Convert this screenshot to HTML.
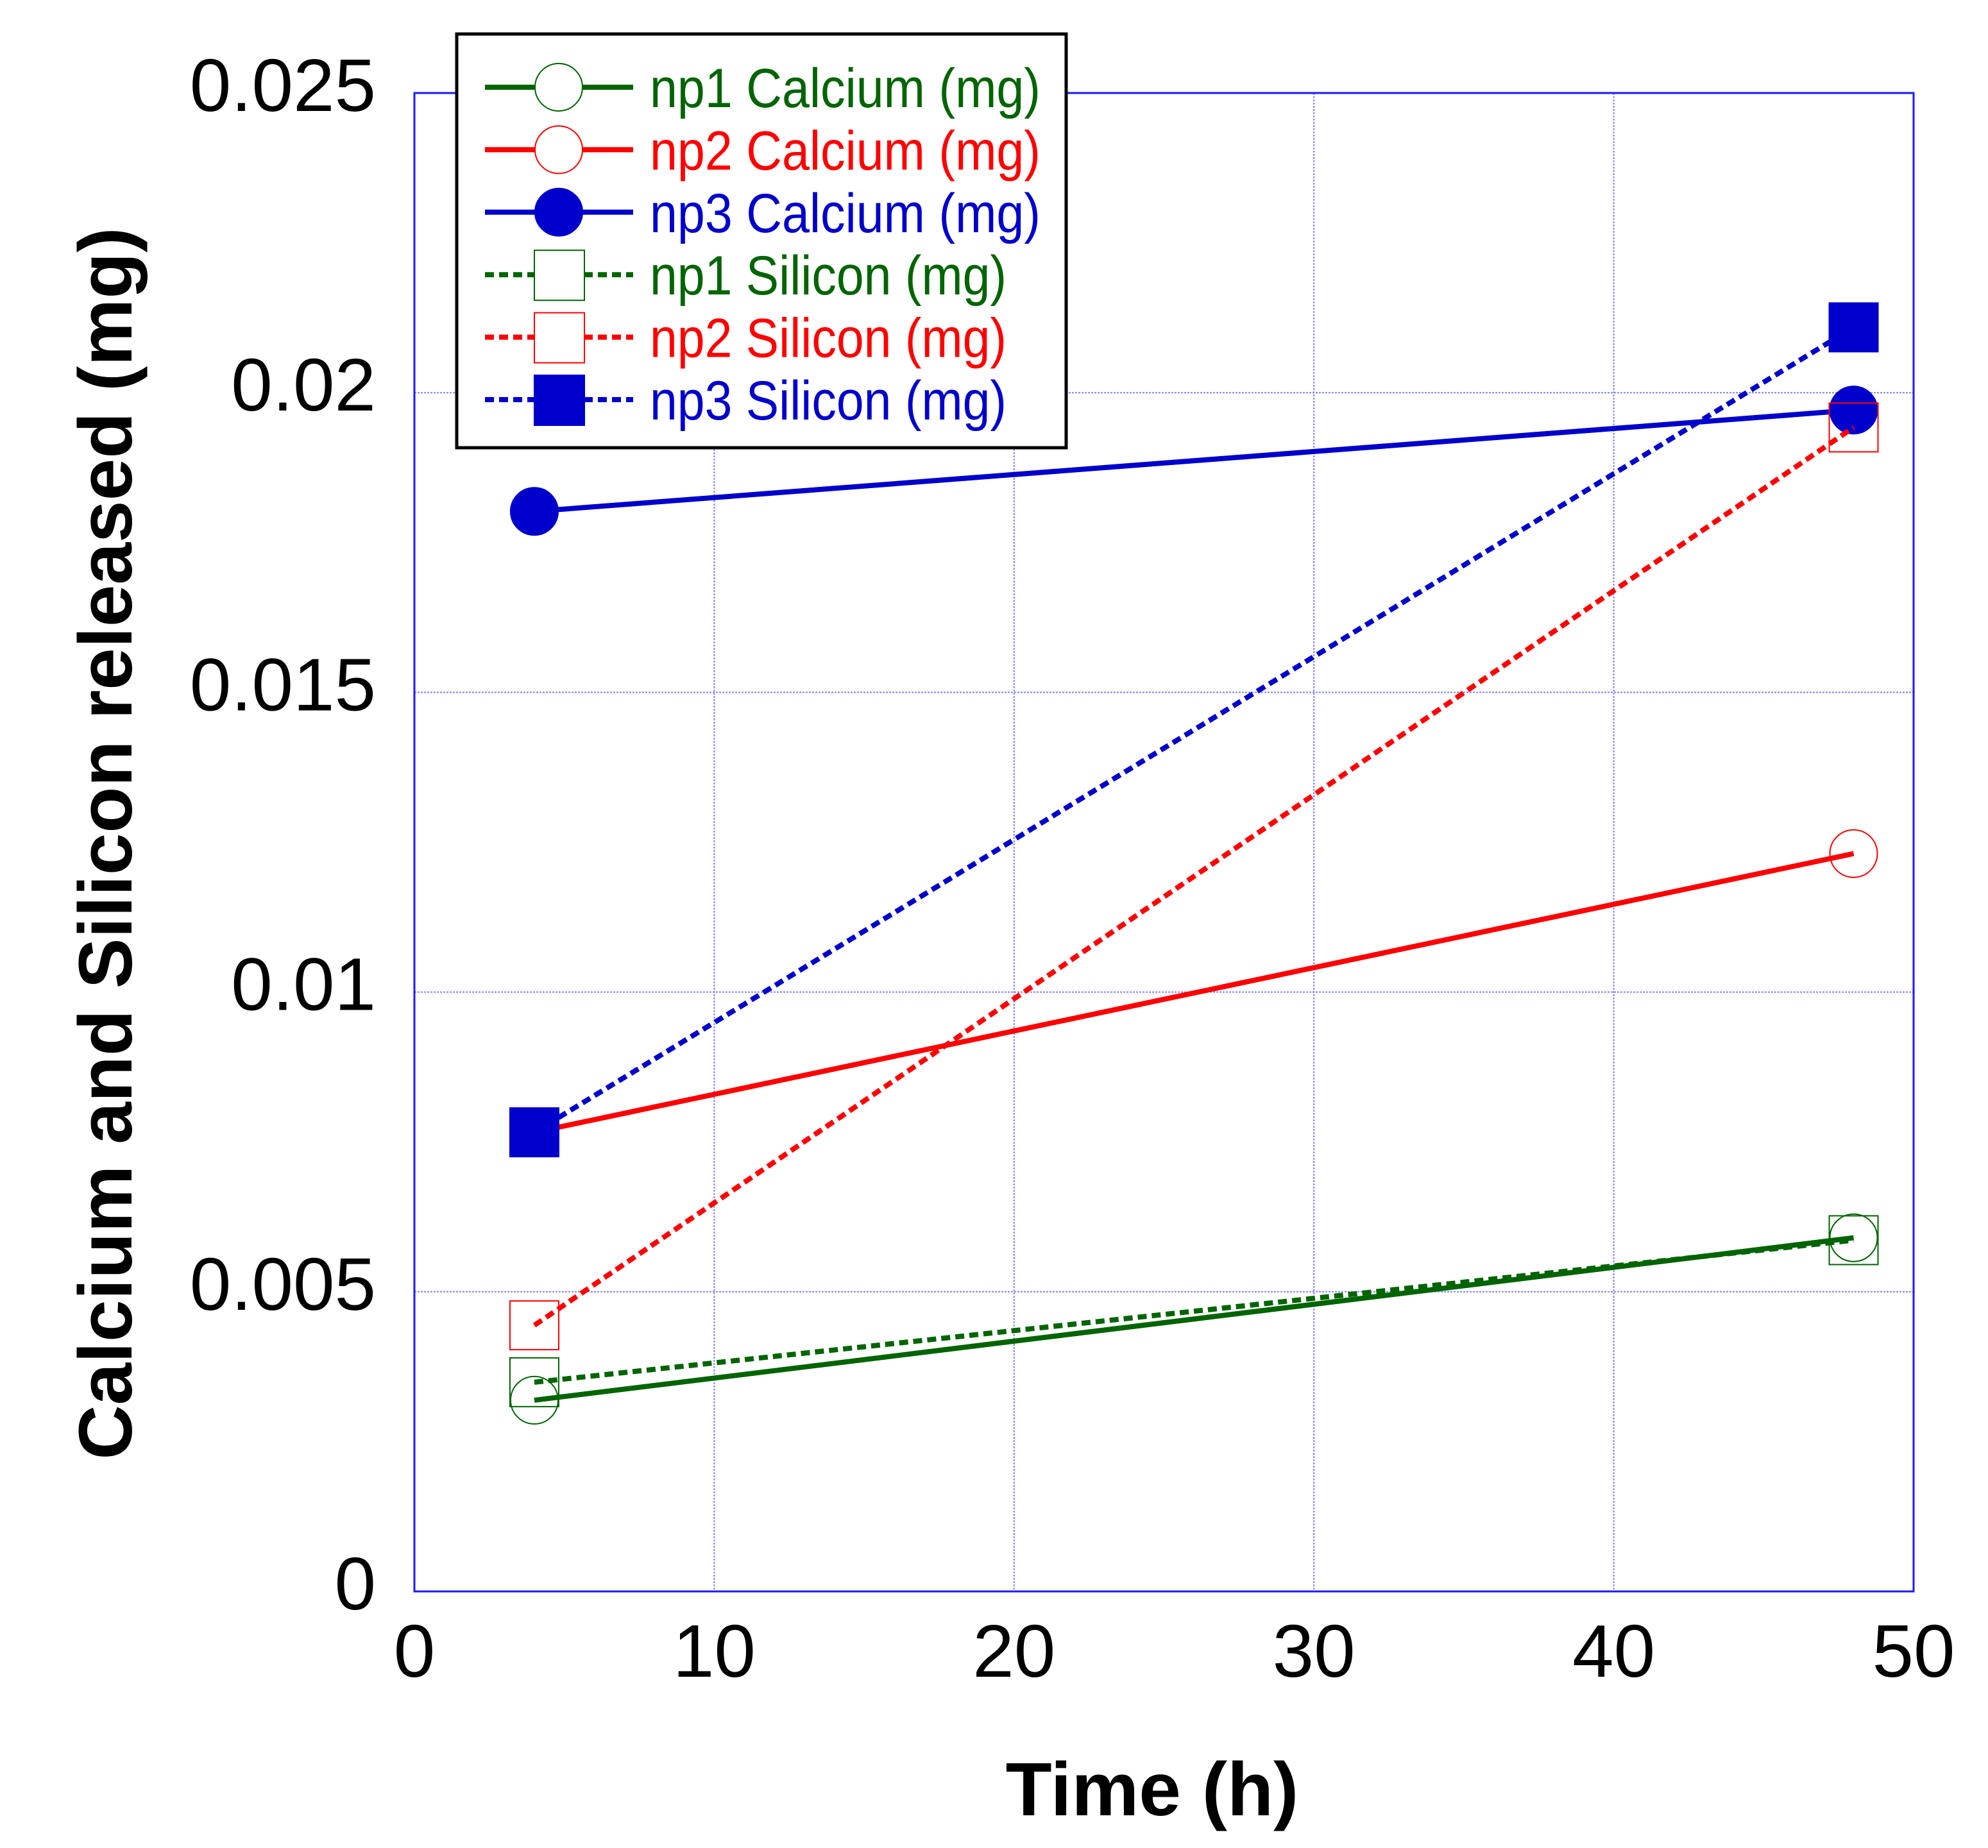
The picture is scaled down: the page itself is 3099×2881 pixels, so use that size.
<!DOCTYPE html>
<html><head><meta charset="utf-8"><style>
html,body{margin:0;padding:0;background:#fff;}
svg{display:block;font-family:"Liberation Sans",Arial,sans-serif;}
</style></head><body>
<svg id="chart" width="3099" height="2881" viewBox="0 0 3099 2881" xmlns="http://www.w3.org/2000/svg">
<g id="grid"></g>
<rect x="646" y="145" width="2337" height="2336" fill="none" stroke="#1a1aff" stroke-width="3"/>
<g id="ticks" font-size="116" fill="#000"></g>
<g id="series"></g>
<text x="1796" y="2830" font-size="118" font-weight="bold" text-anchor="middle">Time (h)</text>
<text transform="translate(205,1315) rotate(-90)" font-size="118" font-weight="bold" text-anchor="middle">Calcium and Silicon released (mg)</text>
<g id="legend">
<rect x="712" y="53" width="950" height="645" fill="#fff" stroke="#000" stroke-width="5"/>
</g>
</svg>
<script>
const xTicks=[0,10,20,30,40,50];
const yTicks=[0,0.005,0.01,0.015,0.02,0.025];
const yTickLabels=["0","0.005","0.01","0.015","0.02","0.025"];
const times=[4,48];
const np1Ca=[0.00319,0.0059];
const np2Ca=[0.00766,0.01231];
const np3Ca=[0.01802,0.01971];
const np1Si=[0.00349,0.00586];
const np2Si=[0.00444,0.01942];
const np3Si=[0.00766,0.02109];
const names=["np1 Calcium (mg)","np2 Calcium (mg)","np3 Calcium (mg)","np1 Silicon (mg)","np2 Silicon (mg)","np3 Silicon (mg)"];
const NS="http://www.w3.org/2000/svg";
const L=646,R=2983,T=145,B=2481;
const xs=v=>L+(v-0)/(50-0)*(R-L);
const ys=v=>B-(v-0)/(0.025)*(B-T);
function mk(tag,attrs,parent){const e=document.createElementNS(NS,tag);for(const k in attrs)e.setAttribute(k,attrs[k]);parent.appendChild(e);return e;}
const grid=document.getElementById('grid'),ticks=document.getElementById('ticks'),ser=document.getElementById('series'),leg=document.getElementById('legend');
xTicks.forEach((t,i)=>{
  if(t>0&&t<50){const g=mk('line',{x1:xs(t),x2:xs(t),y1:T,y2:B,stroke:'#8080ff','stroke-width':2,'stroke-dasharray':'3 2'},grid);
  
  }
  const tx=mk('text',{x:xs(t),y:2614,'text-anchor':'middle'},ticks);tx.textContent=String(t);
  
  
});
yTicks.forEach((t,i)=>{
  if(i>0&&i<yTicks.length-1){const g=mk('line',{x1:L,x2:R,y1:ys(t),y2:ys(t),stroke:'#8080ff','stroke-width':2,'stroke-dasharray':'3 2'},grid);
  
  }
  const tx=mk('text',{x:586,y:ys(t)+28,'text-anchor':'end'},ticks);tx.textContent=yTickLabels[i];
  
  
});
const defs=[
 {d:np1Ca,c:'#006400',dash:null,m:'circle',fill:false},
 {d:np2Ca,c:'#ff0000',dash:null,m:'circle',fill:false},
 {d:np3Ca,c:'#0000cc',dash:null,m:'circle',fill:true},
 {d:np1Si,c:'#006400',dash:'14 8',m:'square',fill:false},
 {d:np2Si,c:'#ff0000',dash:'14 8',m:'square',fill:false},
 {d:np3Si,c:'#0000cc',dash:'14 8',m:'square',fill:true}];
function marker(s,cx,cy,parent){
  let e;
  if(s.m==='circle')e=mk('circle',{cx:cx,cy:cy,r:37,fill:s.fill?s.c:'none',stroke:s.c,'stroke-width':2},parent);
  else e=mk('rect',{x:cx-38,y:cy-38,width:76,height:76,fill:s.fill?s.c:'none',stroke:s.c,'stroke-width':2},parent);
  return e;
}
defs.forEach((s,k)=>{
  const g=mk('g',{},ser);
  
  
  const pts=times.map((t,i)=>xs(t)+','+ys(s.d[i])).join(' ');
  const a={points:pts,fill:'none',stroke:s.c,'stroke-width':8};
  if(s.dash)a['stroke-dasharray']=s.dash;
  const pl=mk('polyline',a,g);
  
  
  times.forEach((t,i)=>{const m=marker(s,xs(t),ys(s.d[i]),g);
    
    });
  const y=136+k*97.4;
  const lg=mk('g',{},leg);
  
  
  const la={x1:756,x2:987,y1:y,y2:y,stroke:s.c,'stroke-width':8};
  if(s.dash)la['stroke-dasharray']=s.dash;
  mk('line',la,lg);
  if(s.m==='circle')mk('circle',{cx:871,cy:y,r:37,fill:s.fill?s.c:'#fff',stroke:s.c,'stroke-width':2},lg);
  else mk('rect',{x:833,y:y-38,width:78,height:78,fill:s.fill?s.c:'#fff',stroke:s.c,'stroke-width':2},lg);
  const tx=mk('text',{x:1013,y:y+31,'font-size':86,fill:s.c,textLength:(k<3?609:556),lengthAdjust:'spacingAndGlyphs'},lg);tx.textContent=names[k];
});
</script>
</body></html>
